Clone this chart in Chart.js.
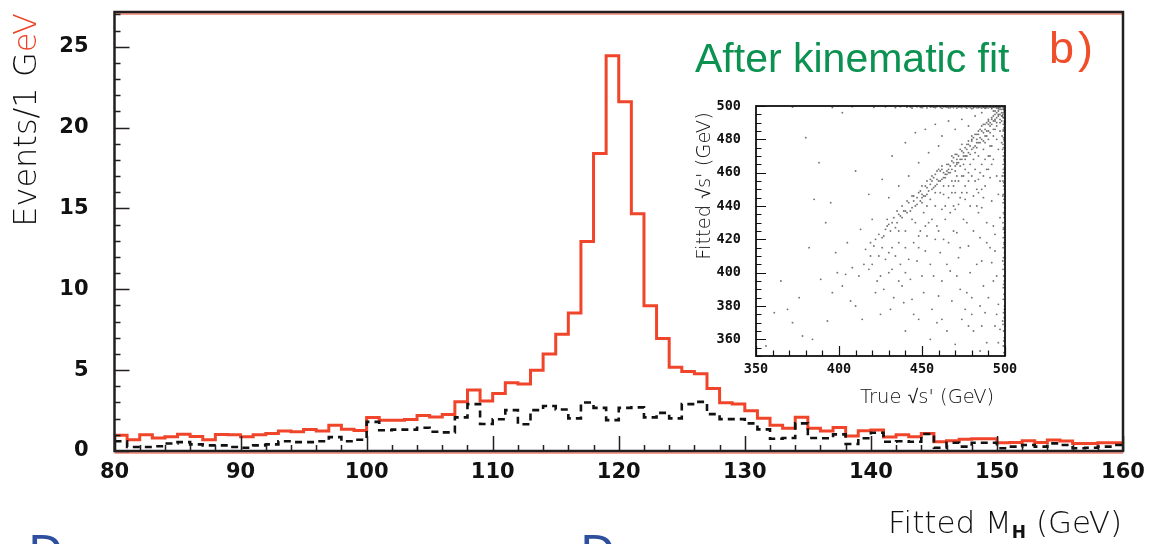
<!DOCTYPE html>
<html>
<head>
<meta charset="utf-8">
<script src="https://cdn.jsdelivr.net/npm/chart.js@4.4.1/dist/chart.umd.min.js"></script>
<style>
  html, body { margin: 0; padding: 0; background: #fff; }
  body { width: 1151px; height: 544px; overflow: hidden; position: relative; font-family: 'DejaVu Sans', sans-serif; }
  #mainChart { position: absolute; left: 0; top: 0; }
  #insetChart { position: absolute; left: 690px; top: 95px; }
  .txt { position: absolute; white-space: nowrap; }
  #yTitle { left: -95px; top: 100px; width: 240px; height: 40px; line-height: 40px; font-size: 32px; font-weight: 200;
            text-align: center; color: #111; transform: rotate(-90deg); }
  #yTitle .red { color: #ee4326; }
  #xTitle { right: 29px; top: 504px; font-size: 31px; line-height: 36px; font-weight: 200; color: #111; }
  #xTitle sub { font-size: 17px; font-weight: bold; vertical-align: -5px; }
  #fitLabel { left: 695px; top: 37px; font-family: 'Liberation Sans', Arial, sans-serif; font-size: 41px; line-height: 42px; color: #0b9150; }
  #panelLabel { left: 1049px; top: 25px; font-family: 'Liberation Sans', Arial, sans-serif; font-size: 45px; line-height: 45px; color: #f04e2a; letter-spacing: 4px; }
  #insetX { left: 860px; top: 386px; font-size: 19.5px; line-height: 22px; font-weight: 200; color: #111; }
  #insetY { left: 624px; top: 174px; width: 160px; height: 24px; line-height: 24px; font-size: 19.5px; font-weight: 200;
            text-align: center; color: #111; transform: rotate(-90deg); }
  .blueD { top: 530px; font-size: 46px; line-height: 46px; color: #2d4f9e; }
</style>
</head>
<body>
<canvas id="mainChart" width="1151" height="544"></canvas>
<canvas id="insetChart" width="330" height="320"></canvas>

<div class="txt" id="yTitle">Events/1 G<span class="red">eV</span></div>
<div class="txt" id="xTitle">Fitted M<sub>H</sub> (GeV)</div>
<div class="txt" id="fitLabel">After kinematic fit</div>
<div class="txt" id="panelLabel">b)</div>
<div class="txt" id="insetX">True √s' (GeV)</div>
<div class="txt" id="insetY">Fitted √s' (GeV)</div>
<div class="txt blueD" style="left:28px">D</div>
<div class="txt blueD" style="left:580px">D</div>

<script>
// histogram bins: 1 GeV wide, first bin starts at 80 GeV
var firstBin = 80;
var binWidth = 1;

// signal + background after the kinematic fit (red, solid)
var totalEvents = [
  0.97, 0.70, 1.00, 0.80, 0.88, 1.03, 0.90, 0.70, 1.02, 1.00,
  0.88, 1.00, 1.08, 1.23, 1.19, 1.33, 1.23, 1.60, 1.35, 1.27,
  2.07, 1.90, 1.90, 1.95, 2.20, 2.10, 2.25, 3.05, 3.77, 3.09,
  3.56, 4.22, 4.14, 5.00, 6.00, 7.22, 8.54, 12.96, 18.40, 24.44,
  21.60, 14.67, 8.99, 6.95, 5.18, 4.91, 4.78, 3.87, 2.98, 2.90,
  2.49, 2.02, 1.60, 1.40, 2.08, 1.40, 1.23, 1.46, 0.93, 1.25,
  1.30, 0.86, 1.00, 0.88, 1.09, 0.57, 0.64, 0.72, 0.76, 0.76,
  0.51, 0.53, 0.64, 0.53, 0.68, 0.62, 0.47, 0.47, 0.51, 0.51
];

// background only (black, dashed)
var backgroundEvents = [
  0.60, 0.25, 0.25, 0.29, 0.46, 0.55, 0.41, 0.35, 0.35, 0.25,
  0.20, 0.35, 0.41, 0.60, 0.55, 0.55, 0.60, 0.86, 0.60, 0.70,
  1.80, 1.28, 1.32, 1.32, 1.44, 1.19, 1.15, 2.08, 2.90, 1.67,
  1.96, 2.53, 1.65, 2.53, 2.78, 2.57, 2.02, 3.00, 2.67, 1.91,
  2.67, 2.70, 2.08, 2.36, 2.02, 2.90, 3.04, 2.28, 1.97, 1.97,
  1.71, 1.34, 0.76, 0.80, 1.71, 0.80, 0.79, 1.03, 0.43, 0.79,
  1.13, 0.57, 0.60, 0.57, 1.05, 0.20, 0.51, 0.27, 0.51, 0.51,
  0.17, 0.27, 0.37, 0.27, 0.47, 0.37, 0.17, 0.20, 0.27, 0.37
];

var massTicks = [80, 90, 100, 110, 120, 130, 140, 150, 160];
var eventTicks = [0, 5, 10, 15, 20, 25];

// inset: true vs fitted sqrt(s'), [true, fitted] in GeV
var insetTrueTicks = [350, 400, 450, 500];
var insetFitTicks = [360, 380, 400, 420, 440, 460, 480, 500];
var insetPoints = [
  // pile-up along the top edge
  [372,499.4],[396,499.1],[408,499.6],[421,499.2],[428,499.5],[434,499.0],[437,499.6],[441,499.3],[444,498.8],[447,499.5],
  [449,499.2],[451,499.7],[453,498.9],[455,499.4],[456,499.6],[458,499.0],[459,499.5],[461,499.2],[462,498.7],[464,499.6],
  [465,499.3],[466,498.9],[468,499.5],[469,499.1],[470,499.7],[471,498.8],[473,499.4],[474,499.0],[475,499.6],[476,499.2],
  [477,498.7],[478,499.5],[479,499.1],[480,499.7],[481,498.9],[482,499.4],[483,499.0],[484,499.6],[485,499.2],[486,498.8],
  [487,499.5],[488,499.1],[489,499.7],[490,498.9],[491,499.4],[492,499.0],[493,499.6],[494,499.2],[495,498.8],[496,499.5],
  [497,499.1],[498,499.7],[499,499.3],
  [443,499.4],[450,499.0],[457,499.3],[463,499.5],[467,499.0],[472,499.3],[477,499.6],[481,499.4],[484,499.0],[487,499.3],
  [489,499.0],[491,499.6],[493,499.3],[495,499.5],[497,499.6],[499,498.9],[492,498.5],[496,498.3],[488,498.6],[480,498.4],
  // pile-up along the right edge
  [499.4,352],[499.0,356],[499.6,361],[499.2,365],[498.8,369],[499.5,373],[499.1,376],[499.7,380],[498.9,384],[499.4,387],
  [499.0,391],[499.6,395],[499.2,398],[498.8,402],[499.5,405],[499.1,409],[499.7,412],[498.9,415],[499.4,418],[499.0,421],
  [499.6,424],[499.2,427],[498.8,430],[499.5,433],[499.1,436],[499.7,439],[498.9,442],[499.4,444],[499.0,447],[499.6,450],
  [499.2,452],[498.8,455],[499.5,458],[499.1,460],[499.7,463],[498.9,465],[499.4,468],[499.0,470],[499.6,472],[499.2,475],
  [498.8,477],[499.5,479],[499.1,481],[499.7,483],[498.9,485],[499.4,487],[499.0,489],[499.6,491],[499.2,493],[498.8,495],
  [499.5,497],
  [499.3,359],[498.6,371],[499.6,378],[499.2,393],[498.7,407],[499.5,417],[499.0,426],[499.6,435],[498.7,446],[499.3,454],
  [499.0,462],[499.6,467],[498.6,474],[499.3,480],[499.0,486],[499.6,490],[498.5,494],[499.3,498],[498.3,482],[498.4,458],
  // dense corner
  [491,490],[492,493],[493,491],[494,495],[495,493],[496,497],[497,495],[498,498],[494,492],[496,494],
  [497,498],[493,494],[495,496],[492,489],[498,496],[499,498],[496,499],[494,497],[490,491],[491,488],
  [497,492],[495,490],[493,497],[498,494],[499,496],
  // diagonal band
  [416,414],[419,418],[421,416],[424,423],[426,421],[428,426],[430,429],[431,425],[433,433],[435,430],
  [436,435],[438,433],[439,437],[441,436],[442,442],[444,439],[445,443],[446,440],[448,448],[449,443],
  [450,447],[451,446],[452,452],[453,447],[455,453],[456,450],[457,457],[458,452],[459,456],[460,455],
  [461,461],[462,456],[463,460],[464,459],[465,465],[466,460],[467,464],[468,462],[469,469],[470,464],
  [471,468],[472,466],[473,474],[474,468],[475,472],[476,470],[477,477],[478,472],[479,476],[480,474],
  [481,481],[482,476],[483,480],[484,478],[485,486],[486,480],[487,484],[488,482],[489,490],[490,485],
  [470,471],[475,470],[480,482],[485,481],[488,489],[460,462],[465,461],[455,456],[450,445],[445,446],
  [478,479],[483,478],[473,468],[468,467],[463,457],[458,459],[453,451],[487,489],[490,492],[484,483],
  [422,420],[427,422],[429,428],[434,427],[437,434],[440,437],[443,437],[447,445],[449,449],[452,446],
  [454,449],[456,455],[457,451],[459,461],[461,455],[462,462],[464,457],[466,465],[467,460],[469,466],
  [470,461],[471,471],[472,470],[473,464],[474,473],[476,475],[477,470],[478,477],[479,471],[480,479],
  [481,475],[482,483],[483,475],[484,485],[485,478],[486,488],[487,479],[488,486],[489,482],[490,489],
  [491,484],[492,492],[493,486],[494,491],[495,488],[496,495],[497,490],[498,491],[499,493],[489,485],
  [486,485],[483,483],[480,480],[477,474],[474,477],[471,465],[468,470],[465,459],[462,464],[459,453],
  [456,458],[453,455],[450,452],[447,441],[444,446],[441,443],[438,440],[435,437],[432,430],[429,432],
  // spread below the diagonal
  [420,405],[425,398],[430,412],[432,402],[436,418],[438,392],[440,425],[442,408],[444,384],[446,430],
  [448,415],[450,398],[451,436],[453,422],[455,405],[456,378],[458,440],[459,428],[461,412],[462,395],
  [463,447],[464,432],[466,418],[467,401],[468,383],[469,452],[470,438],[471,424],[472,409],[473,390],
  [474,372],[475,458],[476,444],[477,430],[478,416],[479,400],[480,385],[481,365],[482,462],[483,450],
  [484,436],[485,421],[486,407],[487,392],[488,376],[489,358],[490,470],[491,457],[492,443],[493,428],
  [494,413],[495,398],[496,381],[497,366],[491,476],[493,468],[495,458],[496,447],[497,433],[494,423],
  [492,406],[489,418],[486,439],[484,456],[481,446],[478,455],[476,462],[474,448],[472,441],[470,455],
  [466,445],[462,438],[458,420],[454,430],[449,425],[445,418],[440,400],[436,395],[432,415],[428,408],
  [424,410],[418,402],[412,398],[408,403],[404,399],[410,380],[425,375],[440,365],[455,360],[470,357],
  [485,353],[462,372],[478,368],[448,372],[433,385],[422,388],[466,462],[471,466],[476,468],[482,472],
  [487,474],[489,462],[486,465],[490,480],[488,478],
  [437,405],[443,396],[447,407],[452,413],[457,398],[460,386],[463,420],[465,405],[467,436],[469,425],
  [471,398],[473,415],[475,432],[477,388],[479,440],[481,425],[483,405],[485,380],[487,445],[489,430],
  [491,415],[493,395],[495,375],[497,455],[492,465],[488,452],[484,470],[480,458],[476,452],[472,455],
  [468,448],[464,440],[460,425],[456,432],[452,428],[448,422],[444,432],[440,415],[436,425],[434,410],
  [430,400],[426,415],[423,395],[419,410],[415,405],[427,390],[445,375],[465,365],[480,375],[490,385],
  [494,368],[496,358],[486,368],[476,378],[459,370],[451,388],[439,382],[431,378],[498,478],[497,485],
  [496,474],[495,480],[494,486],[493,482],[492,476],[491,470],[490,462],[488,468],[487,458],[486,450],
  [485,460],[484,448],[483,440],[482,455],[481,468],[479,465],[478,460],[477,448],[475,465],[474,458],
  [473,445],[471,458],[470,448],[469,440],[468,455],[466,452],[463,452],[461,448],[458,448],[455,444],
  [453,440],[450,442],
  // sparse, above the diagonal
  [402,496],[395,442],[388,466],[380,481],[410,461],[418,447],[426,456],[432,470],[440,478],[446,484],
  [452,486],[458,489],[462,482],[466,491],[470,486],[474,492],[478,488],[482,494],[486,496],[420,432],
  [430,445],[436,452],[442,458],[448,466],[454,472],[460,476],[413,426],[405,418],[398,412],
  // isolated, low masses
  [356,356],[361,376],[369,378],[372,370],[376,385],[382,415],[385,444],[389,396],[393,371],[396,388],
  [399,400],[402,392],[378,362],[365,395],[392,430],[407,383],[414,372],[384,360]
];

function toSteps(values) {
  var pts = values.map(function(v, i) { return { x: firstBin + i * binWidth, y: v }; });
  pts.push({ x: firstBin + values.length * binWidth, y: values[values.length - 1] });
  return pts;
}

function setTicks(list) {
  return function(scale) { scale.ticks = list.map(function(v) { return { value: v }; }); };
}

// fixed axis size, and no extra label padding pushed into the layout
function fixSize(prop, size) {
  return function(s) {
    s[prop] = size;
    s.paddingTop = 0; s.paddingBottom = 0; s.paddingLeft = 0; s.paddingRight = 0;
  };
}

// frame + inward pointing tick marks, like the original plot
var frameAndTicks = {
  id: 'frameAndTicks',
  afterDatasetsDraw: function(chart, args, opts) {
    var ctx = chart.ctx, a = chart.chartArea, x = chart.scales.x, y = chart.scales.y;
    var isMajor = function(scale, v) {
      return scale.ticks.some(function(t) { return Math.abs(t.value - v) < 1e-6; });
    };
    ctx.save();
    if (opts.redEdges) {
      ctx.strokeStyle = '#ee4326';
      ctx.lineWidth = 1;
      ctx.beginPath();
      ctx.moveTo(a.left, a.top + 2); ctx.lineTo(a.right, a.top + 2);
      ctx.moveTo(a.left, a.bottom + 2); ctx.lineTo(a.right, a.bottom + 2);
      ctx.stroke();
    }
    ctx.strokeStyle = opts.color;
    ctx.lineWidth = opts.tickWidth;
    ctx.beginPath();
    var k, v, px, len;
    for (k = 0; ; k++) {
      v = x.min + k * opts.xStep;
      if (v > x.max + 1e-9) break;
      px = Math.round(x.getPixelForValue(v)) + 0.5;
      len = isMajor(x, v) ? opts.majorLen : opts.minorLen;
      ctx.moveTo(px, a.bottom); ctx.lineTo(px, a.bottom - len);
    }
    for (k = 0; ; k++) {
      v = y.min + k * opts.yStep;
      if (v > y.max + 1e-9) break;
      px = Math.round(y.getPixelForValue(v)) + 0.5;
      len = isMajor(y, v) ? opts.majorLen : opts.minorLen;
      ctx.moveTo(a.left, px); ctx.lineTo(a.left + len, px);
    }
    ctx.stroke();
    ctx.lineWidth = opts.frameWidth;
    ctx.strokeRect(a.left, a.top, a.right - a.left, a.bottom - a.top);
    ctx.restore();
  }
};

var mainChart = new Chart(document.getElementById('mainChart'), {
  type: 'line',
  data: {
    datasets: [{
      label: 'Background',
      data: toSteps(backgroundEvents),
      borderColor: '#111111',
      borderWidth: 2.6,
      borderDash: [7, 5],
      stepped: true,
      pointRadius: 0,
      fill: false
    }, {
      label: 'Signal + background',
      data: toSteps(totalEvents),
      borderColor: '#f0452a',
      borderWidth: 3,
      stepped: true,
      pointRadius: 0,
      fill: false
    }]
  },
  options: {
    responsive: false,
    animation: false,
    layout: { autoPadding: false, padding: { top: 12, right: 28, left: 0, bottom: 0 } },
    plugins: {
      legend: { display: false },
      tooltip: { enabled: false },
      frameAndTicks: { xStep: 2, yStep: 1, minorLen: 6, majorLen: 15, tickWidth: 1.5, frameWidth: 2.5, color: '#231f20', redEdges: true }
    },
    scales: {
      x: {
        type: 'linear', min: 80, max: 160,
        grid: { display: false, drawTicks: false },
        border: { display: false },
        afterBuildTicks: setTicks(massTicks),
        afterFit: fixSize('height', 93),
        ticks: { font: { family: "'DejaVu Sans', sans-serif", weight: 'bold', size: 21 }, color: '#111', padding: 9, maxRotation: 0 }
      },
      y: {
        type: 'linear', min: 0, max: 27.15,
        grid: { display: false, drawTicks: false },
        border: { display: false },
        afterBuildTicks: setTicks(eventTicks),
        afterFit: fixSize('width', 114.5),
        ticks: { font: { family: "'DejaVu Sans', sans-serif", weight: 'bold', size: 21 }, color: '#111', padding: 26 }
      }
    }
  },
  plugins: [frameAndTicks]
});

var insetChart = new Chart(document.getElementById('insetChart'), {
  type: 'scatter',
  data: {
    datasets: [{
      label: 'Fitted vs true',
      data: insetPoints.map(function(p) { return { x: p[0], y: p[1] }; }),
      pointRadius: 0.95,
      pointBackgroundColor: 'rgba(55,55,55,0.7)',
      pointBorderWidth: 0
    }]
  },
  options: {
    responsive: false,
    animation: false,
    layout: { autoPadding: false, padding: { top: 11, right: 15, left: 0, bottom: 0 } },
    plugins: {
      legend: { display: false },
      tooltip: { enabled: false },
      frameAndTicks: { xStep: 10, yStep: 5, minorLen: 5.5, majorLen: 10, tickWidth: 1.2, frameWidth: 1.8, color: '#111', redEdges: false }
    },
    scales: {
      x: {
        type: 'linear', min: 350, max: 500,
        grid: { display: false, drawTicks: false },
        border: { display: false },
        afterBuildTicks: setTicks(insetTrueTicks),
        afterFit: fixSize('height', 59),
        ticks: { font: { family: "'DejaVu Sans Mono', monospace", weight: 'bold', size: 13.5 }, color: '#111', padding: 5, maxRotation: 0 }
      },
      y: {
        type: 'linear', min: 350, max: 500,
        grid: { display: false, drawTicks: false },
        border: { display: false },
        afterBuildTicks: setTicks(insetFitTicks),
        afterFit: fixSize('width', 66),
        ticks: { font: { family: "'DejaVu Sans Mono', monospace", weight: 'bold', size: 13.5 }, color: '#111', padding: 15 }
      }
    }
  },
  plugins: [frameAndTicks]
});
</script>
</body>
</html>
